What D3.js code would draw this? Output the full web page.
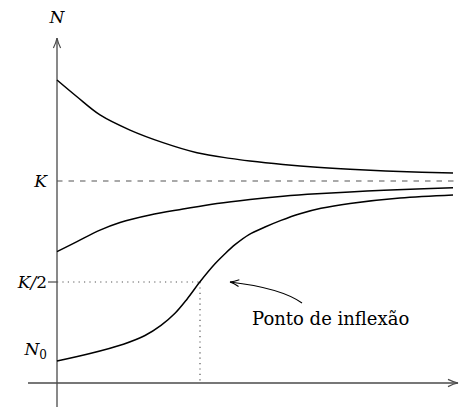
<!DOCTYPE html>
<html>
<head>
<meta charset="utf-8">
<script src="https://cdn.jsdelivr.net/npm/d3@7"></script>
<style>
  body { margin: 0; background: #fff; }
  svg { display: block; }
  .math { font-family: "DejaVu Serif", serif; font-style: italic; font-size: 17px; }
  .note { font-family: "DejaVu Serif", serif; font-size: 18px; }
</style>
</head>
<body>
<div id="chart"></div>
<script>
// curves: [t, N/K]
const topCurve = [[0, 1.50], [5, 1.417], [10.75, 1.327], [18.25, 1.252], [26.5, 1.19], [35, 1.14],
    [43.25, 1.112], [48.25, 1.099], [56.5, 1.082], [65, 1.068], [73.25, 1.058], [85.75, 1.047], [99, 1.039]];
const midCurve = [[0, 0.650], [5, 0.700], [10.75, 0.757], [15.75, 0.795], [23.25, 0.832], [31.5, 0.861],
    [40, 0.889], [48.25, 0.909], [56.5, 0.925], [65, 0.937], [77.5, 0.950], [90, 0.960], [99, 0.966]];
const lowCurve = [[0, 0.109], [8.25, 0.146], [16.6, 0.192], [22, 0.235], [26, 0.285], [29.5, 0.345],
    [32.5, 0.415], [35.75, 0.501], [39.5, 0.590], [42, 0.640], [44.5, 0.685], [48, 0.735], [52, 0.772],
    [56, 0.805], [60.75, 0.838], [66, 0.865], [73.25, 0.889], [85.75, 0.916], [99, 0.931]];

const K = 1;
const N0 = 0.109;
const inflexionT = 35.75;
const yLabels = ["K", "K/2", "N0"];
const noteText = "Ponto de inflexão";

const width = 468, height = 407;

const svg = d3.select("#chart")
    .append("svg")
    .attr("width", width)
    .attr("height", height);

const x = d3.scaleLinear()
    .domain([0, 100])
    .range([57, 457]);

const y = d3.scaleLinear()
    .domain([0, 1])
    .range([383, 181]);

const axisColor = "#4a4a4a";

// latex style open arrow head
function arrowHead(tx, ty, angle, len, spread) {
    const c = Math.cos(angle), s = Math.sin(angle);
    const p = (a, b) => [tx - a * c + b * s, ty - a * s - b * c];
    const w1 = p(len, spread), w2 = p(len, -spread);
    const m1 = p(len * 0.45, spread * 0.25), m2 = p(len * 0.45, -spread * 0.25);
    return `M${w1}Q${m1} ${tx},${ty}Q${m2} ${w2}`;
}

// axes
svg.append("line")
    .attr("x1", x(0)).attr("x2", x(0))
    .attr("y1", height).attr("y2", 38)
    .attr("stroke", axisColor).attr("stroke-width", 1.3);
svg.append("path")
    .attr("d", arrowHead(x(0), 38, -Math.PI / 2, 10, 3.6))
    .attr("fill", "none").attr("stroke", axisColor).attr("stroke-width", 1.2);

svg.append("line")
    .attr("x1", 28).attr("x2", 458)
    .attr("y1", y(0)).attr("y2", y(0))
    .attr("stroke", axisColor).attr("stroke-width", 1.3);
svg.append("path")
    .attr("d", arrowHead(458, y(0), 0, 10, 3.6))
    .attr("fill", "none").attr("stroke", axisColor).attr("stroke-width", 1.2);

svg.append("text")
    .attr("class", "math")
    .attr("x", x(0))
    .attr("y", 23)
    .attr("text-anchor", "middle")
    .text("N");

// K asymptote
svg.append("line")
    .attr("x1", x(0)).attr("x2", x(99.5))
    .attr("y1", y(K)).attr("y2", y(K))
    .attr("stroke", "#555").attr("stroke-width", 1.2)
    .attr("stroke-dasharray", "5.5,6");

// K/2 guides
svg.append("line")
    .attr("x1", x(0) - 9).attr("x2", x(0))
    .attr("y1", y(K / 2)).attr("y2", y(K / 2))
    .attr("stroke", axisColor).attr("stroke-width", 1.2);
svg.append("line")
    .attr("x1", x(0)).attr("x2", x(inflexionT))
    .attr("y1", y(K / 2)).attr("y2", y(K / 2))
    .attr("stroke", "#555").attr("stroke-width", 1.2)
    .attr("stroke-dasharray", "1.2,4.2");
svg.append("line")
    .attr("x1", x(inflexionT)).attr("x2", x(inflexionT))
    .attr("y1", y(K / 2)).attr("y2", y(0))
    .attr("stroke", "#555").attr("stroke-width", 1.2)
    .attr("stroke-dasharray", "1.2,4.2");

// y labels
const labelVals = [K, K / 2, N0];
yLabels.forEach((lab, i) => {
    const t = svg.append("text")
        .attr("class", "math")
        .attr("x", 47)
        .attr("y", y(labelVals[i]) + (lab === "N0" ? -6 : 6))
        .attr("text-anchor", "end");
    if (lab === "N0") {
        t.append("tspan").text("N");
        t.append("tspan")
            .attr("dy", 4)
            .attr("font-size", "12px")
            .attr("font-style", "normal")
            .text("0");
    } else if (lab === "K/2") {
        t.append("tspan").text("K/");
        t.append("tspan").attr("font-style", "normal").text("2");
    } else {
        t.text(lab);
    }
});

// curves
const line = d3.line()
    .curve(d3.curveCatmullRom.alpha(0.5))
    .x(d => x(d[0]))
    .y(d => y(d[1]));

svg.selectAll(".curve")
    .data([topCurve, midCurve, lowCurve])
    .join("path")
    .attr("class", "curve")
    .attr("d", line)
    .attr("fill", "none")
    .attr("stroke", "#000")
    .attr("stroke-width", 1.5);

// annotation
const tail = [x(61.25), y(0.396)];
const ctrl = [x(56), y(0.470)];
const tip = [x(43.25), y(0.500)];
svg.append("path")
    .attr("d", `M${tail}Q${ctrl} ${tip}`)
    .attr("fill", "none").attr("stroke", "#000").attr("stroke-width", 1.1);
const ang = Math.atan2(tip[1] - ctrl[1], tip[0] - ctrl[0]);
svg.append("path")
    .attr("d", arrowHead(tip[0], tip[1], ang, 9, 3.4))
    .attr("fill", "none").attr("stroke", "#000").attr("stroke-width", 1.1);

svg.append("text")
    .attr("class", "note")
    .attr("x", x(48.75))
    .attr("y", y(0.287))
    .text(noteText);
</script>
</body>
</html>
